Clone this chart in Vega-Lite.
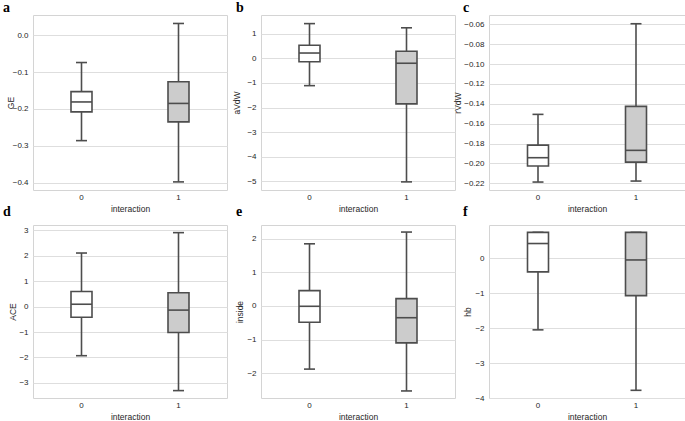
{
  "$schema": "https://vega.github.io/schema/vega-lite/v6.json",
  "padding": {"left": 2, "top": 0, "right": 0, "bottom": 0},
  "background": "white",
  "data": {"values": [
    {"panel": "a", "interaction": 0, "lower": -0.286, "q1": -0.208, "median": -0.181, "q3": -0.153, "upper": -0.074},
    {"panel": "a", "interaction": 1, "lower": -0.398, "q1": -0.235, "median": -0.185, "q3": -0.126, "upper": 0.032},
    {"panel": "b", "interaction": 0, "lower": -1.11, "q1": -0.14, "median": 0.215, "q3": 0.53, "upper": 1.41},
    {"panel": "b", "interaction": 1, "lower": -5.02, "q1": -1.85, "median": -0.2, "q3": 0.285, "upper": 1.24},
    {"panel": "c", "interaction": 0, "lower": -0.2187, "q1": -0.2026, "median": -0.1942, "q3": -0.1815, "upper": -0.1506},
    {"panel": "c", "interaction": 1, "lower": -0.2177, "q1": -0.1986, "median": -0.1868, "q3": -0.1425, "upper": -0.0594},
    {"panel": "d", "interaction": 0, "lower": -1.93, "q1": -0.42, "median": 0.09, "q3": 0.59, "upper": 2.1},
    {"panel": "d", "interaction": 1, "lower": -3.3, "q1": -1.02, "median": -0.14, "q3": 0.54, "upper": 2.9},
    {"panel": "e", "interaction": 0, "lower": -1.88, "q1": -0.485, "median": -0.01, "q3": 0.455, "upper": 1.85},
    {"panel": "e", "interaction": 1, "lower": -2.53, "q1": -1.1, "median": -0.35, "q3": 0.217, "upper": 2.2},
    {"panel": "f", "interaction": 0, "lower": -2.05, "q1": -0.39, "median": 0.42, "q3": 0.74, "upper": 0.74},
    {"panel": "f", "interaction": 1, "lower": -3.78, "q1": -1.07, "median": -0.05, "q3": 0.74, "upper": 0.74}
  ]},
  "columns": 3,
  "spacing": {"row": 35, "column": 34},
  "bounds": "flush",
  "align": "each",
  "concat": [
    {
      "width": 194, "height": 175,
      "title": {"text": "a", "anchor": "start", "frame": "group", "dx": -30, "offset": 0},
      "transform": [{"filter": "datum.panel === 'a'"}],
      "encoding": {"x": {"field": "interaction", "type": "ordinal", "scale": {"domain": [0, 1], "paddingInner": 0, "paddingOuter": 0}, "axis": {"title": "interaction", "labelAngle": 0}}},
      "layer": [
        {"mark": {"type": "rule", "color": "#4d4d4d", "strokeWidth": 1.6}, "encoding": {"y": {"field": "lower", "type": "quantitative", "title": "GE", "scale": {"domain": [-0.42, 0.055], "nice": false, "zero": false}, "axis": {"values": [0, -0.1, -0.2, -0.3, -0.4], "tickCount": 20, "format": ".1f", "titleX": -18}}, "y2": {"field": "upper"}}},
        {"mark": {"type": "tick", "color": "#4d4d4d", "size": 11, "thickness": 1.6, "opacity": 1}, "encoding": {"y": {"field": "lower", "type": "quantitative", "title": "GE"}}},
        {"mark": {"type": "tick", "color": "#4d4d4d", "size": 11, "thickness": 1.6, "opacity": 1}, "encoding": {"y": {"field": "upper", "type": "quantitative", "title": "GE"}}},
        {"mark": {"type": "bar", "size": 21, "stroke": "#4d4d4d", "strokeWidth": 1.6}, "encoding": {"y": {"field": "q1", "type": "quantitative", "title": "GE"}, "y2": {"field": "q3"}, "fill": {"field": "interaction", "type": "nominal", "scale": {"domain": [0, 1], "range": ["#ffffff", "#cccccc"]}, "legend": null}}},
        {"mark": {"type": "tick", "color": "#4d4d4d", "size": 21, "thickness": 1.6, "opacity": 1}, "encoding": {"y": {"field": "median", "type": "quantitative", "title": "GE"}}}
      ]
    },
    {
      "width": 194, "height": 175,
      "title": {"text": "b", "anchor": "start", "frame": "group", "dx": -25, "offset": 0},
      "transform": [{"filter": "datum.panel === 'b'"}],
      "encoding": {"x": {"field": "interaction", "type": "ordinal", "scale": {"domain": [0, 1], "paddingInner": 0, "paddingOuter": 0}, "axis": {"title": "interaction", "labelAngle": 0}}},
      "layer": [
        {"mark": {"type": "rule", "color": "#4d4d4d", "strokeWidth": 1.6}, "encoding": {"y": {"field": "lower", "type": "quantitative", "title": "aVdW", "scale": {"domain": [-5.35, 1.76], "nice": false, "zero": false}, "axis": {"values": [1, 0, -1, -2, -3, -4, -5], "tickCount": 20, "format": "d", "titleX": -20}}, "y2": {"field": "upper"}}},
        {"mark": {"type": "tick", "color": "#4d4d4d", "size": 11, "thickness": 1.6, "opacity": 1}, "encoding": {"y": {"field": "lower", "type": "quantitative", "title": "aVdW"}}},
        {"mark": {"type": "tick", "color": "#4d4d4d", "size": 11, "thickness": 1.6, "opacity": 1}, "encoding": {"y": {"field": "upper", "type": "quantitative", "title": "aVdW"}}},
        {"mark": {"type": "bar", "size": 21, "stroke": "#4d4d4d", "strokeWidth": 1.6}, "encoding": {"y": {"field": "q1", "type": "quantitative", "title": "aVdW"}, "y2": {"field": "q3"}, "fill": {"field": "interaction", "type": "nominal", "scale": {"domain": [0, 1], "range": ["#ffffff", "#cccccc"]}, "legend": null}}},
        {"mark": {"type": "tick", "color": "#4d4d4d", "size": 21, "thickness": 1.6, "opacity": 1}, "encoding": {"y": {"field": "median", "type": "quantitative", "title": "aVdW"}}}
      ]
    },
    {
      "width": 196, "height": 175,
      "title": {"text": "c", "anchor": "start", "frame": "group", "dx": -26, "offset": 0},
      "transform": [{"filter": "datum.panel === 'c'"}],
      "encoding": {"x": {"field": "interaction", "type": "ordinal", "scale": {"domain": [0, 1], "paddingInner": 0, "paddingOuter": 0}, "axis": {"title": "interaction", "labelAngle": 0}}},
      "layer": [
        {"mark": {"type": "rule", "color": "#4d4d4d", "strokeWidth": 1.6}, "encoding": {"y": {"field": "lower", "type": "quantitative", "title": "rVdW", "scale": {"domain": [-0.2267, -0.0506], "nice": false, "zero": false}, "axis": {"values": [-0.06, -0.08, -0.1, -0.12, -0.14, -0.16, -0.18, -0.2, -0.22], "tickCount": 20, "format": ".2f", "titleX": -27}}, "y2": {"field": "upper"}}},
        {"mark": {"type": "tick", "color": "#4d4d4d", "size": 11, "thickness": 1.6, "opacity": 1}, "encoding": {"y": {"field": "lower", "type": "quantitative", "title": "rVdW"}}},
        {"mark": {"type": "tick", "color": "#4d4d4d", "size": 11, "thickness": 1.6, "opacity": 1}, "encoding": {"y": {"field": "upper", "type": "quantitative", "title": "rVdW"}}},
        {"mark": {"type": "bar", "size": 21, "stroke": "#4d4d4d", "strokeWidth": 1.6}, "encoding": {"y": {"field": "q1", "type": "quantitative", "title": "rVdW"}, "y2": {"field": "q3"}, "fill": {"field": "interaction", "type": "nominal", "scale": {"domain": [0, 1], "range": ["#ffffff", "#cccccc"]}, "legend": null}}},
        {"mark": {"type": "tick", "color": "#4d4d4d", "size": 21, "thickness": 1.6, "opacity": 1}, "encoding": {"y": {"field": "median", "type": "quantitative", "title": "rVdW"}}}
      ]
    },
    {
      "width": 194, "height": 173,
      "title": {"text": "d", "anchor": "start", "frame": "group", "dx": -30, "offset": 6},
      "transform": [{"filter": "datum.panel === 'd'"}],
      "encoding": {"x": {"field": "interaction", "type": "ordinal", "scale": {"domain": [0, 1], "paddingInner": 0, "paddingOuter": 0}, "axis": {"title": "interaction", "labelAngle": 0}}},
      "layer": [
        {"mark": {"type": "rule", "color": "#4d4d4d", "strokeWidth": 1.6}, "encoding": {"y": {"field": "lower", "type": "quantitative", "title": "ACE", "scale": {"domain": [-3.59, 3.2], "nice": false, "zero": false}, "axis": {"values": [3, 2, 1, 0, -1, -2, -3], "tickCount": 20, "format": "d", "titleX": -16}}, "y2": {"field": "upper"}}},
        {"mark": {"type": "tick", "color": "#4d4d4d", "size": 11, "thickness": 1.6, "opacity": 1}, "encoding": {"y": {"field": "lower", "type": "quantitative", "title": "ACE"}}},
        {"mark": {"type": "tick", "color": "#4d4d4d", "size": 11, "thickness": 1.6, "opacity": 1}, "encoding": {"y": {"field": "upper", "type": "quantitative", "title": "ACE"}}},
        {"mark": {"type": "bar", "size": 21, "stroke": "#4d4d4d", "strokeWidth": 1.6}, "encoding": {"y": {"field": "q1", "type": "quantitative", "title": "ACE"}, "y2": {"field": "q3"}, "fill": {"field": "interaction", "type": "nominal", "scale": {"domain": [0, 1], "range": ["#ffffff", "#cccccc"]}, "legend": null}}},
        {"mark": {"type": "tick", "color": "#4d4d4d", "size": 21, "thickness": 1.6, "opacity": 1}, "encoding": {"y": {"field": "median", "type": "quantitative", "title": "ACE"}}}
      ]
    },
    {
      "width": 194, "height": 173,
      "title": {"text": "e", "anchor": "start", "frame": "group", "dx": -25, "offset": 6},
      "transform": [{"filter": "datum.panel === 'e'"}],
      "encoding": {"x": {"field": "interaction", "type": "ordinal", "scale": {"domain": [0, 1], "paddingInner": 0, "paddingOuter": 0}, "axis": {"title": "interaction", "labelAngle": 0}}},
      "layer": [
        {"mark": {"type": "rule", "color": "#4d4d4d", "strokeWidth": 1.6}, "encoding": {"y": {"field": "lower", "type": "quantitative", "title": "inside", "scale": {"domain": [-2.74, 2.41], "nice": false, "zero": false}, "axis": {"values": [2, 1, 0, -1, -2], "tickCount": 20, "format": "d", "titleX": -16.5}}, "y2": {"field": "upper"}}},
        {"mark": {"type": "tick", "color": "#4d4d4d", "size": 11, "thickness": 1.6, "opacity": 1}, "encoding": {"y": {"field": "lower", "type": "quantitative", "title": "inside"}}},
        {"mark": {"type": "tick", "color": "#4d4d4d", "size": 11, "thickness": 1.6, "opacity": 1}, "encoding": {"y": {"field": "upper", "type": "quantitative", "title": "inside"}}},
        {"mark": {"type": "bar", "size": 21, "stroke": "#4d4d4d", "strokeWidth": 1.6}, "encoding": {"y": {"field": "q1", "type": "quantitative", "title": "inside"}, "y2": {"field": "q3"}, "fill": {"field": "interaction", "type": "nominal", "scale": {"domain": [0, 1], "range": ["#ffffff", "#cccccc"]}, "legend": null}}},
        {"mark": {"type": "tick", "color": "#4d4d4d", "size": 21, "thickness": 1.6, "opacity": 1}, "encoding": {"y": {"field": "median", "type": "quantitative", "title": "inside"}}}
      ]
    },
    {
      "width": 196, "height": 173,
      "title": {"text": "f", "anchor": "start", "frame": "group", "dx": -26, "offset": 6},
      "transform": [{"filter": "datum.panel === 'f'"}],
      "encoding": {"x": {"field": "interaction", "type": "ordinal", "scale": {"domain": [0, 1], "paddingInner": 0, "paddingOuter": 0}, "axis": {"title": "interaction", "labelAngle": 0}}},
      "layer": [
        {"mark": {"type": "rule", "color": "#4d4d4d", "strokeWidth": 1.6}, "encoding": {"y": {"field": "lower", "type": "quantitative", "title": "hb", "scale": {"domain": [-4.0, 0.95], "nice": false, "zero": false}, "axis": {"values": [0, -1, -2, -3, -4], "tickCount": 20, "format": "d", "titleX": -16.5}}, "y2": {"field": "upper"}}},
        {"mark": {"type": "tick", "color": "#4d4d4d", "size": 11, "thickness": 1.6, "opacity": 1}, "encoding": {"y": {"field": "lower", "type": "quantitative", "title": "hb"}}},
        {"mark": {"type": "tick", "color": "#4d4d4d", "size": 11, "thickness": 1.6, "opacity": 1}, "encoding": {"y": {"field": "upper", "type": "quantitative", "title": "hb"}}},
        {"mark": {"type": "bar", "size": 21, "stroke": "#4d4d4d", "strokeWidth": 1.6}, "encoding": {"y": {"field": "q1", "type": "quantitative", "title": "hb"}, "y2": {"field": "q3"}, "fill": {"field": "interaction", "type": "nominal", "scale": {"domain": [0, 1], "range": ["#ffffff", "#cccccc"]}, "legend": null}}},
        {"mark": {"type": "tick", "color": "#4d4d4d", "size": 21, "thickness": 1.6, "opacity": 1}, "encoding": {"y": {"field": "median", "type": "quantitative", "title": "hb"}}}
      ]
    }
  ],
  "config": {
    "view": {"stroke": "#d4d4d4", "strokeWidth": 1},
    "title": {"font": "Liberation Serif", "fontWeight": "bold", "fontSize": 14, "color": "#000000", "baseline": "alphabetic"},
    "axis": {"labelFont": "Liberation Sans", "titleFont": "Liberation Sans", "labelFontSize": 8, "titleFontSize": 8.5, "labelColor": "#262626", "titleColor": "#262626", "titleFontWeight": "normal", "ticks": false, "domain": false, "labelPadding": 5},
    "axisX": {"grid": false, "labelPadding": 3, "titlePadding": 3},
    "axisY": {"grid": true, "gridColor": "#dedede", "gridWidth": 1, "labelOverlap": false}
  }
}
